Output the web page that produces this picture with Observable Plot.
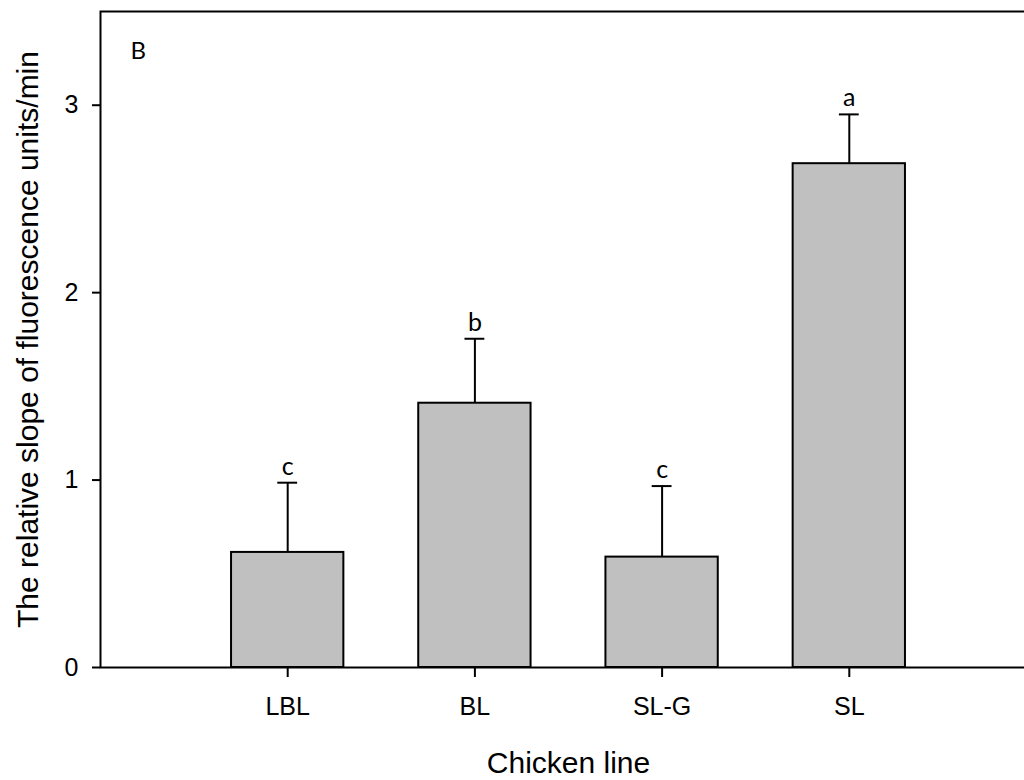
<!DOCTYPE html>
<html>
<head>
<meta charset="utf-8">
<script src="https://cdn.jsdelivr.net/npm/d3@7"></script>
<script src="https://cdn.jsdelivr.net/npm/@observablehq/plot@0.6"></script>
<style>
  html, body { margin: 0; padding: 0; background: #fff; overflow: hidden; width: 1024px; height: 780px; }
  #chart { width: 1024px; height: 780px; overflow: hidden; }
  #chart svg { display: block; max-width: none !important; width: 1036px !important; height: 780px !important; }
</style>
</head>
<body>
<div id="chart"></div>
<script>
// Data
const chickenLines = ["LBL", "BL", "SL-G", "SL"];
const meanSlopes = [0.614, 1.410, 0.589, 2.688];
const errorUpper = [0.372, 0.344, 0.379, 0.263];
const groupLetters = ["c", "b", "c", "a"];
const yTicks = [0, 1, 2, 3];

const rows = chickenLines.map((name, i) => ({
  name,
  pos: i + 1,
  mean: meanSlopes[i],
  top: meanSlopes[i] + errorUpper[i],
  letter: groupLetters[i]
}));

const halfBar = 0.3;
const halfCap = 0.053;
const axisFont = "Liberation Sans, Arial, sans-serif";
const letterFont = "Lato, 'Open Sans', sans-serif";

const chart = Plot.plot({
  width: 1036,
  height: 780,
  marginLeft: 100,
  marginRight: 0,
  marginTop: 11,
  marginBottom: 113,
  style: { fontFamily: axisFont, background: "white", overflow: "visible" },
  x: { type: "linear", domain: [0, 5], axis: null },
  y: { domain: [0, 3.5], axis: null },
  marks: [
    Plot.rect(rows, {
      x1: d => d.pos - halfBar, x2: d => d.pos + halfBar,
      y1: 0, y2: "mean",
      fill: "#c0c0c0", stroke: "black", strokeWidth: 2
    }),
    Plot.ruleX(rows, { x: "pos", y1: "mean", y2: "top", stroke: "black", strokeWidth: 2 }),
    Plot.ruleY(rows, {
      y: "top", x1: d => d.pos - halfCap, x2: d => d.pos + halfCap,
      stroke: "black", strokeWidth: 2
    }),
    Plot.text(rows, {
      x: "pos", y: "top", text: "letter", dy: -8, lineAnchor: "bottom",
      fontFamily: letterFont, fontSize: 25, fill: "black"
    }),
    Plot.frame({ stroke: "black", strokeWidth: 2 }),
    Plot.axisX(rows.map(d => d.pos), {
      tickSize: 10, tickPadding: 20, fontSize: 25, strokeWidth: 2,
      tickFormat: p => chickenLines[p - 1], label: null
    }),
    Plot.axisY(yTicks, {
      tickSize: 8, tickPadding: 14, fontSize: 25, strokeWidth: 2,
      tickFormat: d3.format("d"), label: null
    }),
    Plot.text(["Chicken line"], {
      frameAnchor: "bottom", dy: 105, lineAnchor: "bottom", textAnchor: "middle",
      fontSize: 30, fill: "black"
    }),
    Plot.text(["The relative slope of fluorescence units/min"], {
      frameAnchor: "left", rotate: -90, dx: -63, lineAnchor: "bottom", textAnchor: "middle",
      fontSize: 30, fill: "black"
    }),
    Plot.text(["B"], {
      frameAnchor: "top-left", dx: 30, dy: 47, lineAnchor: "bottom", textAnchor: "start",
      fontFamily: letterFont, fontSize: 24, fill: "black"
    })
  ]
});

document.getElementById("chart").appendChild(chart);
</script>
</body>
</html>
